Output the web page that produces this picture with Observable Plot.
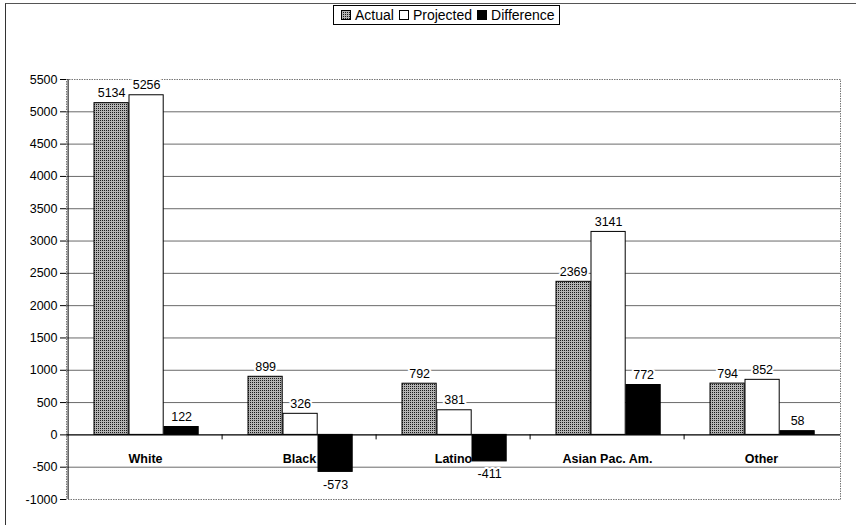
<!DOCTYPE html>
<html><head><meta charset="utf-8">
<script src="https://cdn.jsdelivr.net/npm/d3@7"></script>
<script src="https://cdn.jsdelivr.net/npm/@observablehq/plot@0.6"></script>
<style>
body{margin:0;background:#fff;font-family:"Liberation Sans",Arial,sans-serif;}
#wrap{position:relative;width:856px;height:525px;overflow:hidden;background:#fff;}
#chart{position:absolute;left:0;top:0;}
#border{position:absolute;left:5px;top:3px;width:900px;height:600px;border-left:1px solid #333;border-top:1px solid #555;}
#legend{position:absolute;left:333px;top:5px;height:18px;border:1px solid #000;padding:0 4px 0 2px;display:flex;align-items:center;font-size:14px;background:#fff;white-space:nowrap;color:#000;}
#legend svg{margin:0 4px 0 5px;}
</style></head><body>
<svg width="0" height="0" style="position:absolute"><defs>
<pattern id="dither" width="2" height="2" patternUnits="userSpaceOnUse">
<rect width="2" height="2" fill="#b4b4b4"/><rect width="1" height="1" fill="#1a1a1a"/>
</pattern></defs></svg>
<div id="wrap"><div id="border"></div><div id="chart"></div><div id="legend"></div></div>
<script>
const categories = ["White", "Black", "Latino", "Asian Pac. Am.", "Other"];
const seriesNames = ["Actual", "Projected", "Difference"];
const actual = [5134, 899, 792, 2369, 794];
const projected = [5256, 326, 381, 3141, 852];
const difference = [122, -573, -411, 772, 58];
const yTicks = [-1000, -500, 0, 500, 1000, 1500, 2000, 2500, 3000, 3500, 4000, 4500, 5000, 5500];

const seriesValues = {Actual: actual, Projected: projected, Difference: difference};
const fills = {Actual: "url(#dither)", Projected: "white", Difference: "black"};
const rows = [];
categories.forEach((c, i) => seriesNames.forEach(s => rows.push({category: c, series: s, value: seriesValues[s][i]})));

const W = 856, H = 525, mL = 66, mR = 16, mT = 79, mB = 26;
const bw = (W - mL - mR) / categories.length;
const barW = 35, firstOff = 26;

const marks = [];
marks.push(Plot.gridY(yTicks.slice(1, -1), {stroke: "#6a6a6a", strokeOpacity: 1}));
marks.push(Plot.frame({stroke: "#777", strokeDasharray: "1.5,1"}));
marks.push(Plot.text(categories, {x: d => d, frameAnchor: "bottom", dy: -37, fontWeight: "bold", fontSize: 12.5, fill: "black", stroke: "white", strokeWidth: 6, paintOrder: "stroke"}));
seriesNames.forEach((s, k) => {
  const left = firstOff + k * barW;
  marks.push(Plot.barY(rows.filter(r => r.series === s), {x: "category", y: "value", fill: fills[s], stroke: "black", strokeWidth: 1, insetLeft: left, insetRight: bw - left - barW}));
});
marks.push(Plot.ruleY([0], {stroke: "black"}));
marks.push(Plot.ruleX(categories.slice(1), {x: d => d, y1: 0, y2: 0, insetBottom: -5, dx: -bw / 2, stroke: "black"}));
marks.push(Plot.ruleX(categories.slice(0, 1), {x: d => d, dx: -bw / 2, stroke: "black"}));
seriesNames.forEach((s, k) => {
  const dx = (firstOff + k * barW + barW / 2) - bw / 2;
  const sr = rows.filter(r => r.series === s);
  marks.push(Plot.text(sr.filter(r => r.value >= 0), {x: "category", y: "value", text: d => String(d.value), dx, dy: -6, lineAnchor: "bottom", fontSize: 12.5, fill: "black", stroke: "white", strokeWidth: 4, paintOrder: "stroke"}));
  marks.push(Plot.text(sr.filter(r => r.value < 0), {x: "category", y: "value", text: d => String(d.value), dx, dy: 8, lineAnchor: "top", fontSize: 12.5, fill: "black", stroke: "white", strokeWidth: 4, paintOrder: "stroke"}));
});
marks.push(Plot.axisY(yTicks, {tickSize: 6, tickPadding: 3, fontSize: 12.5, label: null, tickFormat: d => String(d), stroke: "black", fill: "black"}));

const chart = Plot.plot({
  width: W, height: H,
  marginLeft: mL, marginRight: mR, marginTop: mT, marginBottom: mB,
  style: {fontFamily: "'Liberation Sans', Arial, sans-serif", fontSize: "12px", background: "transparent", color: "black"},
  x: {domain: categories, padding: 0, axis: null},
  y: {domain: [-1000, 5500], axis: null, label: null},
  marks
});
document.getElementById("chart").appendChild(chart);

const legend = document.getElementById("legend");
seriesNames.forEach(s => {
  const sw = document.createElementNS("http://www.w3.org/2000/svg", "svg");
  sw.setAttribute("width", "10"); sw.setAttribute("height", "10");
  const r = document.createElementNS("http://www.w3.org/2000/svg", "rect");
  r.setAttribute("x", "0.5"); r.setAttribute("y", "0.5"); r.setAttribute("width", "9"); r.setAttribute("height", "9");
  r.setAttribute("fill", fills[s]); r.setAttribute("stroke", "black");
  sw.appendChild(r);
  legend.appendChild(sw);
  const t = document.createElement("span");
  t.textContent = s;
  legend.appendChild(t);
});
</script>
</body></html>
